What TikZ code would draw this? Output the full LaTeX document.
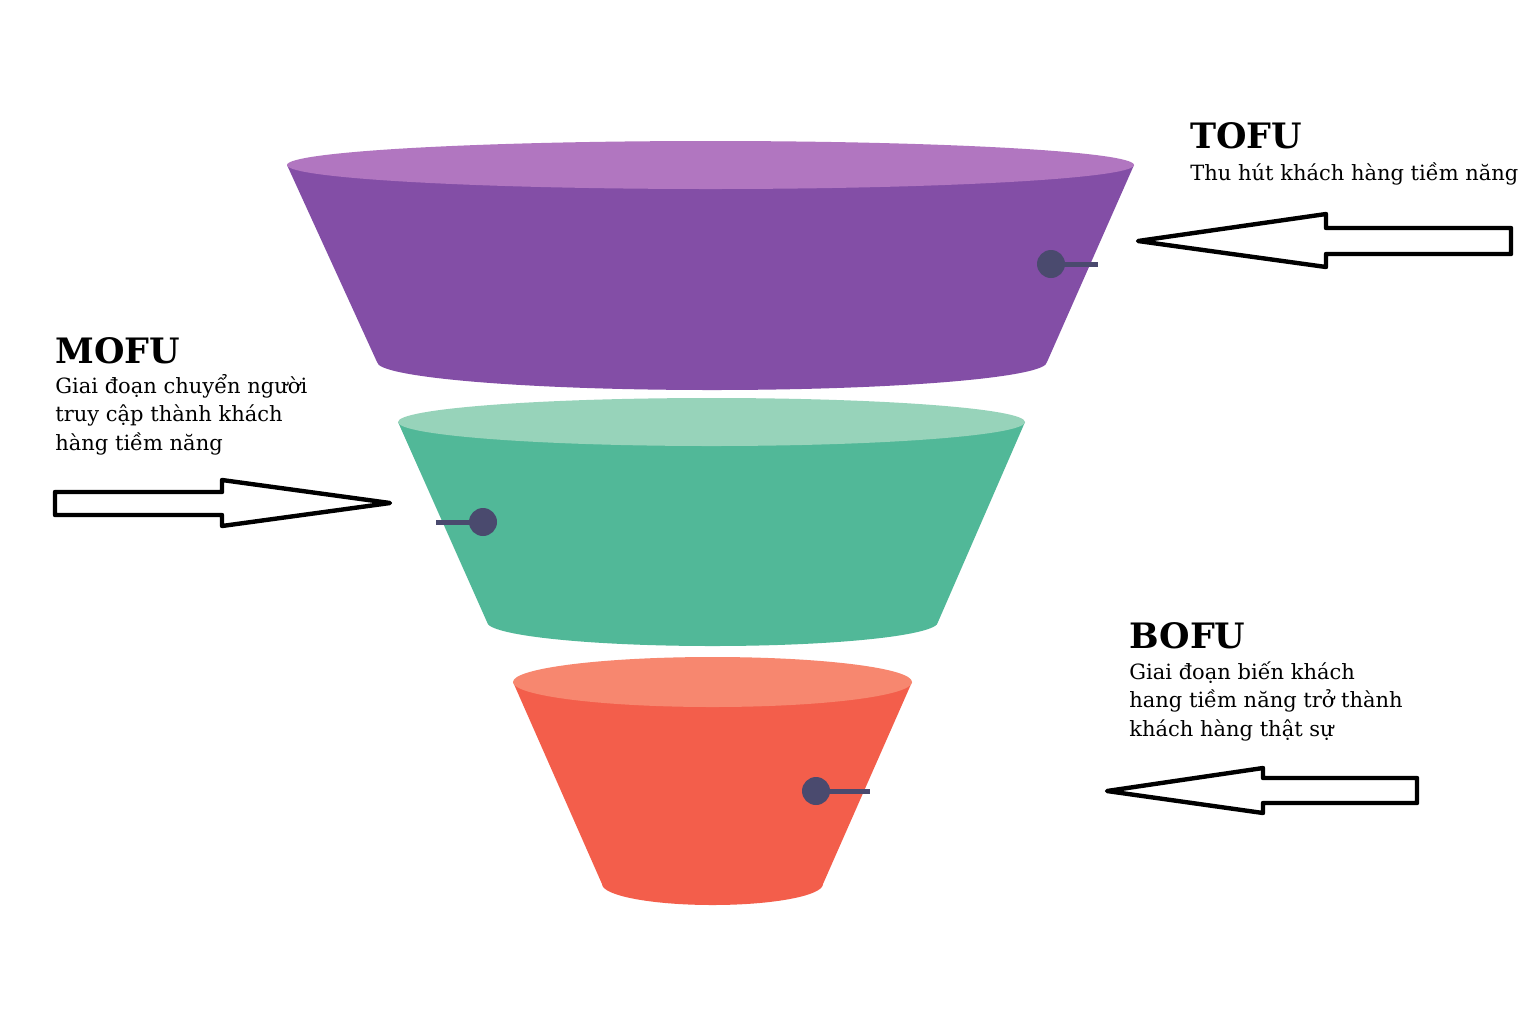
\documentclass[tikz,border=0pt]{standalone}
\usepackage{fontspec}
\setmainfont{DejaVu Serif}
\usepackage{tikz}
\usetikzlibrary{positioning}
\definecolor{tofuside}{HTML}{834EA6}
\definecolor{tofutop}{HTML}{B176C0}
\definecolor{mofuside}{HTML}{51B898}
\definecolor{mofutop}{HTML}{97D3BA}
\definecolor{bofuside}{HTML}{F35E4B}
\definecolor{bofutop}{HTML}{F7876F}
\definecolor{dotc}{HTML}{4A4A6E}

\begin{document}
\begin{tikzpicture}[x=0.5pt,y=-0.5pt,
  hd/.style={font=\fontsize{17.5}{20}\selectfont\bfseries,anchor=base west,inner sep=0pt},
  desc/.style={font=\fontsize{10.5}{14.25}\selectfont,align=left,anchor=base west,inner sep=0pt},
  dot/.style={circle,fill=dotc,minimum size=14pt,inner sep=0pt},
  stem/.style={draw=dotc,line width=2.5pt},
  barrow/.style={draw=black,line width=2.2pt,fill=white,line join=round}]
  \fill[white] (0,0) rectangle (1536,1024);
  \useasboundingbox (0,0) rectangle (1536,1024);

  % funnel layers
  \fill[tofuside] (287,165) -- (377,362) arc[start angle=180,end angle=0,x radius=335,y radius=28] -- (1134,165) -- cycle;
  \fill[tofutop] (710.5,165) ellipse[x radius=423.5,y radius=24];
  \fill[mofuside] (398,422) -- (487,622) arc[start angle=180,end angle=0,x radius=225.5,y radius=24] -- (1025,422) -- cycle;
  \fill[mofutop] (711.5,422) ellipse[x radius=313.5,y radius=24];
  \fill[bofuside] (513,682) -- (602,884) arc[start angle=180,end angle=0,x radius=110.5,y radius=21] -- (912,682) -- cycle;
  \fill[bofutop] (712.5,682) ellipse[x radius=199.5,y radius=25];

  % markers
  \coordinate (tofuend) at (1098,264);
  \coordinate (mofuend) at (436,522);
  \coordinate (bofuend) at (870,791);
  \draw[stem] (1051,264) -- (tofuend);
  \draw[stem] (483,522) -- (mofuend);
  \draw[stem] (816,791) -- (bofuend);
  \node[dot] (tofudot) at (1051,264) {};
  \node[dot] (mofudot) at (483,522) {};
  \node[dot] (bofudot) at (816,791) {};

  % block arrows
  \draw[barrow] (1138,241) -- (1326,214) -- (1326,228) -- (1511,228) -- (1511,254) -- (1326,254) -- (1326,267) -- cycle;
  \draw[barrow] (390,503) -- (222,480) -- (222,492) -- (55,492) -- (55,515) -- (222,515) -- (222,526) -- cycle;
  \draw[barrow] (1107,791) -- (1263,768) -- (1263,778) -- (1417,778) -- (1417,803) -- (1263,803) -- (1263,813) -- cycle;

  % labels (base = last line)
  \node[hd] (tofu) at (1190,148) {TOFU};
  \node[desc] (tofutxt) at (1190,180) {Thu hút khách hàng tiềm năng};
  \node[hd] (mofu) at (55,363) {MOFU};
  \node[desc] (mofutxt) at (55,450) {Giai đoạn chuyển người\\truy cập thành khách\\hàng tiềm năng};
  \node[hd] (bofu) at (1129,648) {BOFU};
  \node[desc] (bofutxt) at (1129,736) {Giai đoạn biến khách\\hang tiềm năng trở thành\\khách hàng thật sự};
\end{tikzpicture}
\end{document}
